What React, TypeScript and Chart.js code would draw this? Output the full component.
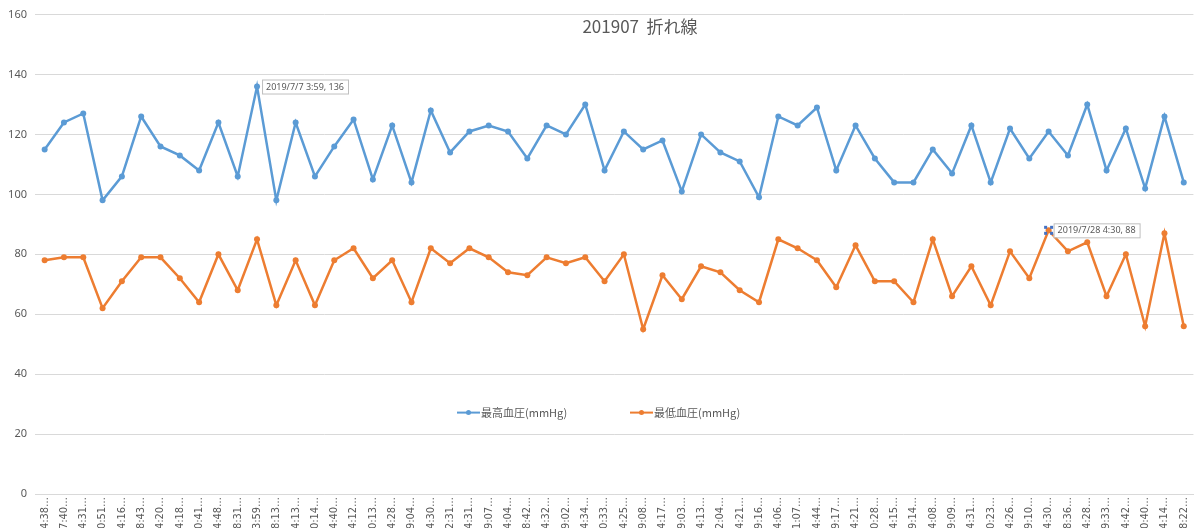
import React, { useEffect, useRef } from 'react';
import { Chart, registerables } from 'chart.js';

Chart.register(...registerables);

const chartTitle = '201907  折れ線';

const timeLabels = [
  '4:38', '17:40', '4:31', '20:51', '4:16', '18:43', '4:20', '4:18', '20:41', '4:48',
  '18:31', '3:59', '18:13', '4:13', '20:14', '4:40', '4:12', '20:13', '4:28', '19:04',
  '4:30', '22:31', '4:31', '19:07', '4:04', '18:42', '4:32', '19:02', '4:34', '20:33',
  '4:25', '19:08', '4:17', '19:03', '4:13', '22:04', '4:21', '19:16', '4:06', '21:07',
  '4:44', '19:17', '4:21', '20:28', '4:15', '19:14', '4:08', '19:09', '4:31', '20:23',
  '4:26', '19:10', '4:30', '18:36', '4:28', '19:33', '4:42', '20:40', '4:14', '18:22',
];

const systolic = [
  115, 124, 127, 98, 106, 126, 116, 113, 108, 124,
  106, 136, 98, 124, 106, 116, 125, 105, 123, 104,
  128, 114, 121, 123, 121, 112, 123, 120, 130, 108,
  121, 115, 118, 101, 120, 114, 111, 99, 126, 123,
  129, 108, 123, 112, 104, 104, 115, 107, 123, 104,
  122, 112, 121, 113, 130, 108, 122, 102, 126, 104,
];

const diastolic = [
  78, 79, 79, 62, 71, 79, 79, 72, 64, 80,
  68, 85, 63, 78, 63, 78, 82, 72, 78, 64,
  82, 77, 82, 79, 74, 73, 79, 77, 79, 71,
  80, 55, 73, 65, 76, 74, 68, 64, 85, 82,
  78, 69, 83, 71, 71, 64, 85, 66, 76, 63,
  81, 72, 88, 81, 84, 66, 80, 56, 87, 56,
];

const seriesNames = ['最高血圧(mmHg)', '最低血圧(mmHg)'];
const seriesColors = ['#5B9BD5', '#ED7D31'];

// data labels shown in the reference: [dataset, index, date text]
const calloutSeries = [0, 1];
const calloutIndex = [11, 52];
const calloutDates = ['2019/7/7 3:59', '2019/7/28 4:30'];

const textColor = '#595959';
const gridColor = '#d9d9d9';

const overlayPlugin = {
  id: 'overlay',
  afterDraw(chart: any) {
    const { ctx, chartArea } = chart;
    ctx.save();

    // title, drawn inside the plot like Excel does
    ctx.font = '17px "Noto Sans CJK JP", "Noto Sans"';
    ctx.fillStyle = textColor;
    ctx.textAlign = 'center';
    ctx.textBaseline = 'middle';
    ctx.fillText(chartTitle, 640, chartArea.top + 12);

    // legend inside the plot
    ctx.font = '11px "Noto Sans CJK JP", "Noto Sans"';
    ctx.textAlign = 'left';
    const legendY = chartArea.top + 398;
    chart.data.datasets.forEach((ds: any, i: number) => {
      const x0 = 457 + i * 173;
      ctx.strokeStyle = ds.borderColor;
      ctx.lineWidth = 2;
      ctx.beginPath();
      ctx.moveTo(x0, legendY);
      ctx.lineTo(x0 + 23, legendY);
      ctx.stroke();
      ctx.fillStyle = ds.borderColor;
      ctx.beginPath();
      ctx.arc(x0 + 11.5, legendY, 2.5, 0, Math.PI * 2);
      ctx.fill();
      ctx.fillStyle = textColor;
      ctx.fillText(ds.label, x0 + 24, legendY);
    });

    // data callouts
    ctx.font = '9px "Noto Sans", sans-serif';
    calloutSeries.forEach((s, k) => {
      const idx = calloutIndex[k];
      const value = chart.data.datasets[s].data[idx];
      const px = chart.scales.x.getPixelForValue(idx);
      const py = chart.scales.y.getPixelForValue(value);
      const text = `${calloutDates[k]}, ${value}`;
      const w = ctx.measureText(text).width + 8;
      const bx = px + 5;
      const by = py - 7;
      ctx.fillStyle = '#ffffff';
      ctx.fillRect(bx, by, w, 14);
      ctx.strokeStyle = '#bfbfbf';
      ctx.lineWidth = 1;
      ctx.strokeRect(bx + 0.5, by + 0.5, w, 14);
      ctx.fillStyle = textColor;
      ctx.textBaseline = 'middle';
      ctx.fillText(text, bx + 4, py + 0.5);
      if (k === 1) {
        // selection handles around the selected point
        ctx.fillStyle = '#4472C4';
        [[-3, -3], [3, -3], [-3, 3], [3, 3]].forEach(([dx, dy]) => {
          ctx.fillRect(px + dx - 1.5, py + dy - 1.5, 3, 3);
        });
      }
    });

    ctx.restore();
  },
};

const App: React.FC = () => {
  const chartRef = useRef<HTMLCanvasElement>(null);
  const chartInstance = useRef<Chart | null>(null);

  useEffect(() => {
    document.body.style.margin = '0';
    if (chartInstance.current) {
      chartInstance.current.destroy();
    }
    if (chartRef.current) {
      const ctx = chartRef.current.getContext('2d');
      if (ctx) {
        chartInstance.current = new Chart(ctx, {
          type: 'line',
          data: {
            labels: timeLabels,
            datasets: [systolic, diastolic].map((values, i) => ({
              label: seriesNames[i],
              data: values,
              borderColor: seriesColors[i],
              backgroundColor: seriesColors[i],
              borderWidth: 2.5,
              pointRadius: 3,
              pointBorderWidth: 0,
              tension: 0,
            })),
          },
          options: {
            responsive: true,
            maintainAspectRatio: false,
            animation: false,
            layout: { padding: { top: 13, right: 2, left: 0, bottom: 0 } },
            plugins: {
              legend: { display: false },
              title: { display: false },
              tooltip: { enabled: false },
            },
            scales: {
              x: {
                offset: true,
                grid: { display: false, drawTicks: false },
                border: { display: true, color: gridColor },
                ticks: {
                  autoSkip: false,
                  minRotation: 90,
                  maxRotation: 90,
                  padding: 3,
                  color: textColor,
                  font: { size: 11, family: '"Liberation Sans Narrow", "DejaVu Sans Condensed", sans-serif' },
                  callback: (_v: any, i: number) => timeLabels[i] + '…',
                },
                afterFit: (scale: any) => {
                  scale.height = 34;
                },
              },
              y: {
                min: 0,
                max: 160,
                ticks: {
                  stepSize: 20,
                  padding: 8,
                  color: textColor,
                  font: { size: 11, family: '"Noto Sans", sans-serif' },
                },
                grid: { color: gridColor, drawTicks: false },
                border: { display: false },
                afterFit: (scale: any) => {
                  scale.width = 35;
                },
              },
            },
          },
          plugins: [overlayPlugin],
        });
      }
    }
    return () => {
      if (chartInstance.current) {
        chartInstance.current.destroy();
        chartInstance.current = null;
      }
    };
  }, []);

  return (
    <div style={{ position: 'relative', width: '1200px', height: '528px', background: '#fff' }}>
      <canvas ref={chartRef}></canvas>
    </div>
  );
};

export default App;
